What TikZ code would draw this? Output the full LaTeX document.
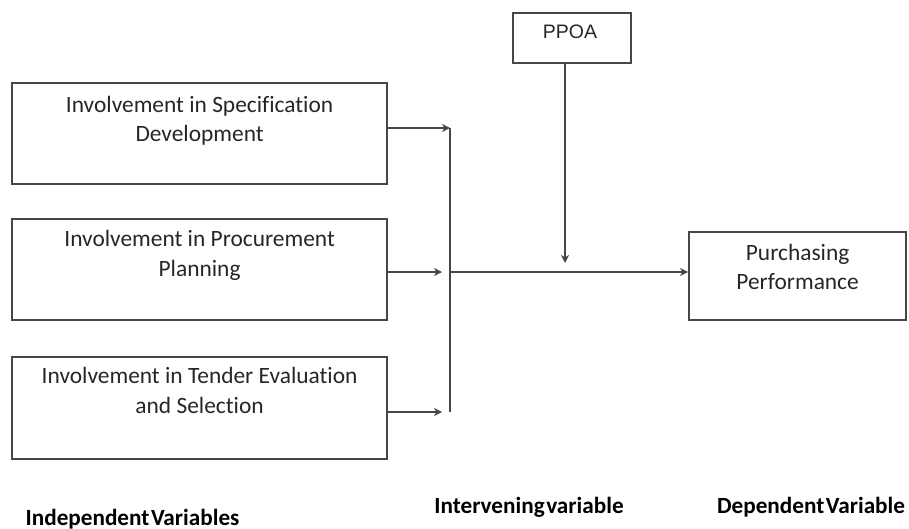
\documentclass[tikz,border=0pt]{standalone}
\usepackage{fontspec}
\setmainfont[Ligatures=NoCommon]{Carlito}
\newfontfamily\arialfont{Liberation Sans}
\usetikzlibrary{arrows.meta}
\newcommand{\tightspace}{\spaceskip=1.6pt\relax}
\tikzset{
  x=1pt, y=-1pt,
  ln/.style={draw=black!72, line width=2.2pt},
  boxnode/.style={ln, anchor=north west, inner sep=0pt},
  lbl/.style={align=center, anchor=north, inner sep=0pt, text=black!85,
              font=\fontsize{23.4}{29.5}\selectfont},
  botlbl/.style={anchor=base, inner sep=0pt, text=black,
              font=\bfseries\fontsize{23.2}{26}\selectfont\tightspace},
  arr/.style={ln, -{Stealth[length=8pt,width=8pt,inset=2.5pt]}},
}
\begin{document}
\begin{tikzpicture}
\useasboundingbox (0,0) rectangle (909,529);
% boxes
\node[boxnode, minimum width=375pt, minimum height=101pt] (b1) at (11,82) {};
\node[boxnode, minimum width=375pt, minimum height=101pt] (b2) at (11,218) {};
\node[boxnode, minimum width=375pt, minimum height=102pt] (b3) at (11,356) {};
\node[boxnode, minimum width=118pt, minimum height=50pt] (pp) at (512,12) {};
\node[boxnode, minimum width=217pt, minimum height=88pt] (pf) at (688,231) {};
% box texts
\node[lbl] (t1) at ([yshift=-14pt]b1.north) {Involvement in Specification\\Development};
\node[lbl] (t2) at ([yshift=-12.5pt]b2.north) {Involvement in Procurement\\Planning};
\node[lbl] (t3) at ([yshift=-11.5pt]b3.north) {Involvement in Tender Evaluation\\and Selection};
\node[lbl] (t5) at ([yshift=-13pt]pf.north) {Purchasing\\Performance};
\node[anchor=base, inner sep=0pt, text=black!85, font=\arialfont\fontsize{19.5}{22}\selectfont] (tp) at (570,39) {PPOA};
% bar
\coordinate (bt) at (450,128);
\coordinate (bm) at (450,272);
\coordinate (bb) at (450,412);
\coordinate (e2) at (442,272);
\coordinate (e3) at (442,412);
\coordinate (ps) at (565,62);
\coordinate (pe) at (565,263);
\draw[ln] (bt) -- (bb);
\draw[arr] (b1.east |- bt) -- (bt);
\draw[arr] (b2.east |- e2) -- (e2);
\draw[arr] (b3.east |- e3) -- (e3);
\draw[arr] (bm) -- (pf.west |- bm);
\draw[arr] (ps) -- (pe);
% bottom labels
\node[botlbl] (l1) at (132.5,525) {Independent Variables};
\node[botlbl] (l2) at (529,513) {Intervening variable};
\node[botlbl] (l3) at (811,513) {Dependent Variable};
\end{tikzpicture}
\end{document}
